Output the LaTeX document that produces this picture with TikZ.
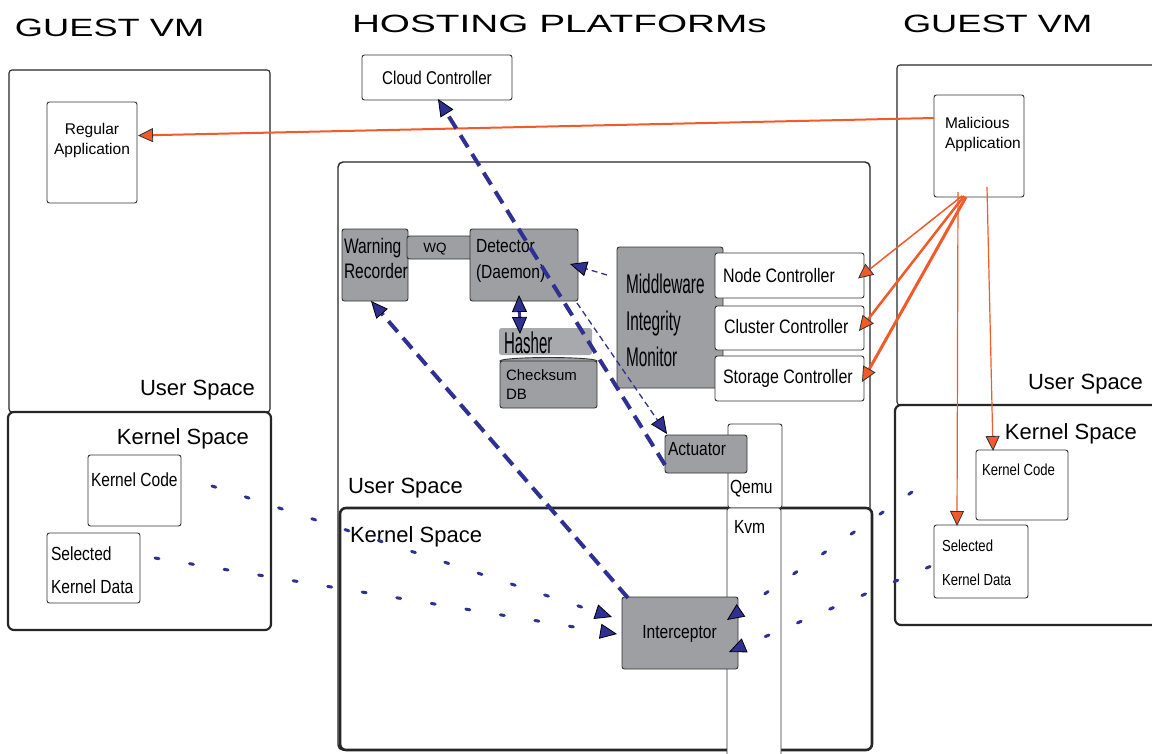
\documentclass[tikz,border=0pt]{standalone}
\usepackage{fontspec}
\setmainfont{Liberation Sans}
\newfontfamily\nf[FakeStretch=0.82]{Liberation Sans}
\newfontfamily\nfw[FakeStretch=0.74]{Liberation Sans}
\newfontfamily\nfm[FakeStretch=0.57]{Liberation Sans}
\newfontfamily\nfh[FakeStretch=0.5]{Liberation Sans}
\newfontfamily\tfa[FakeStretch=1.45]{Liberation Sans}
\newfontfamily\tfb[FakeStretch=1.55]{Liberation Sans}
\usetikzlibrary{arrows.meta,calc}
\definecolor{gfill}{HTML}{9D9FA2}
\definecolor{hfill}{HTML}{A7A9AC}
\definecolor{bl}{HTML}{2E3192}
\definecolor{orn}{HTML}{F15A29}
\newcommand{\fsz}[1]{\fontsize{#1}{#1}\selectfont}
\begin{document}
\begin{tikzpicture}[x=1pt,y=-1pt,
  box/.style={draw=black!80, line width=0.9pt, rounded corners=2.5pt, fill=white, inner sep=0pt, outer sep=0pt, anchor=north west},
  gbox/.style={box, fill=gfill},
  vmbox/.style={draw=black!85, line width=1.1pt, rounded corners=3pt, fill=white, inner sep=0pt, outer sep=0pt, anchor=north west},
  kbox/.style={vmbox, line width=2.2pt, rounded corners=6pt},
  txt/.style={inner sep=0pt, outer sep=0pt, anchor=base west},
  txtc/.style={inner sep=0pt, outer sep=0pt, anchor=base},
  txte/.style={inner sep=0pt, outer sep=0pt, anchor=base east},
  bt/.tip={Triangle[length=17pt, width=15pt, fill=bl, color=black, line width=0.8pt]},
  ot/.tip={Triangle[length=15pt, width=14pt, fill=orn, color=black!80, line width=0.8pt]},
  thickdash/.style={draw=bl, line width=4pt, dash pattern=on 14pt off 8pt},
  thindash/.style={draw=bl, line width=1.3pt, dash pattern=on 6pt off 4pt},
  dotline/.style={draw=bl, line width=3pt, line cap=round, dash pattern=on 4pt off 31pt},
  oline/.style={draw=orn}
]
\useasboundingbox (0,0) rectangle (1152,753);
\clip (0,0) rectangle (1152,753);

% titles
\node[txt] (ttl1) at (15,36) {\fsz{25}\tfa GUEST VM};
\node[txt] (ttl2) at (352,32) {\fsz{25}\tfb HOSTING PLATFORMs};
\node[txt] (ttl3) at (903,32) {\fsz{25}\tfa GUEST VM};

% left guest VM
\node[vmbox, minimum width=261, minimum height=342] (lu) at (9,70) {};
\node[kbox, minimum width=263, minimum height=218] (lk) at (8,412) {};
\node[box, minimum width=90, minimum height=101] (reg) at (47,102) {};
\node[box, minimum width=93, minimum height=71] (lkc) at (88,455) {};
\node[box, minimum width=93, minimum height=70] (lsk) at (47,533) {};
\node[txtc] (regl1) at (92,134) {\fsz{15.5}Regular};
\node[txtc] (regl2) at (92,154) {\fsz{15.5}Application};
\node[txte] (lus) at (255,395) {\fsz{22}User Space};
\node[txte] (lks) at (249,444) {\fsz{22}Kernel Space};
\node[txt] (lkcl) at (91,486) {\fsz{19}\nf Kernel Code};
\node[txt] (lskl1) at (51,560) {\fsz{19}\nf Selected};
\node[txt] (lskl2) at (51,593) {\fsz{19}\nf Kernel Data};

% host
\node[vmbox, line width=1.4pt, rounded corners=5pt, minimum width=532, minimum height=588] (host) at (338,162) {};
\node[kbox, line width=2.6pt, minimum width=532, minimum height=242] (hk) at (340,508) {};
\node[txt] (hus) at (348,493) {\fsz{22}User Space};
\node[txt] (hks) at (350,542) {\fsz{22}Kernel Space};
\node[box, minimum width=150, minimum height=45] (cc) at (362,55) {};
\node[txtc] (ccl) at (437,84) {\fsz{18.5}\nf Cloud Controller};
\node[box, minimum width=54, minimum height=84] (qemu) at (728,424) {};
\node[box, minimum width=54, minimum height=250] (kvm) at (727,508) {};
\node[txt] (qemul) at (730,493) {\fsz{19}\nf Qemu};
\node[txt] (kvml) at (734,533) {\fsz{19}\nf Kvm};
\node[gbox, minimum width=66, minimum height=72] (wr) at (342,229) {};
\node[gbox, minimum width=65, minimum height=23] (wq) at (407,236) {};
\node[gbox, minimum width=108, minimum height=72] (det) at (470,229) {};
\node[box, draw=none, fill=hfill, minimum width=93, minimum height=27] (hash) at (499,328) {};
\draw[draw=black!80, line width=0.9pt, fill=gfill] (548.5,361) ellipse [x radius=48.5pt, y radius=3.5pt];
\node[gbox, minimum width=97, minimum height=47] (cdb) at (500,361) {};
\node[gbox, minimum width=106, minimum height=141] (mim) at (617,247) {};
\node[box, minimum width=149, minimum height=45] (nc) at (715,253) {};
\node[box, minimum width=149, minimum height=44] (clc) at (715,306) {};
\node[box, minimum width=149, minimum height=45] (stc) at (715,356) {};
\node[gbox, minimum width=82, minimum height=38] (act) at (665,435) {};
\node[gbox, minimum width=116, minimum height=72] (intc) at (622,597) {};

\node[txt] (wrl1) at (344,253) {\fsz{21}\nfw Warning};
\node[txt] (wrl2) at (344,278) {\fsz{21}\nfw Recorder};
\node[txtc] (wql) at (435,252) {\fsz{13.5}WQ};
\node[txt] (detl1) at (476,252) {\fsz{19}\nf Detector};
\node[txt] (detl2) at (476,278) {\fsz{19}\nf (Daemon)};
\node[txt] (hashl) at (504,353) {\fsz{30}\nfh Hasher};
\node[txt] (cdbl1) at (506,380) {\fsz{15}Checksum};
\node[txt] (cdbl2) at (506,399) {\fsz{15}DB};
\node[txt] (miml1) at (626,293) {\fsz{27}\nfm Middleware};
\node[txt] (miml2) at (626,330) {\fsz{27}\nfm Integrity};
\node[txt] (miml3) at (626,366) {\fsz{27}\nfm Monitor};
\node[txt] (ncl) at (723,282) {\fsz{19.5}\nf Node Controller};
\node[txt] (clcl) at (724,333) {\fsz{19.5}\nf Cluster Controller};
\node[txt] (stcl) at (723,383) {\fsz{19.5}\nf Storage Controller};
\node[txt] (actl) at (668,455) {\fsz{19}\nf Actuator};
\node[txtc] (intcl) at (679.5,638) {\fsz{19}\nf Interceptor};

% right guest VM
\node[vmbox, minimum width=270, minimum height=340] (ru) at (897,65) {};
\node[kbox, minimum width=270, minimum height=220] (rk) at (895,405) {};
\node[box, minimum width=90, minimum height=102] (mal) at (934,95) {};
\node[box, minimum width=92, minimum height=70] (rkc) at (976,450) {};
\node[box, minimum width=94, minimum height=73] (rsk) at (934,525) {};
\node[txt] (mall1) at (945,128) {\fsz{15.5}Malicious};
\node[txt] (mall2) at (945,148) {\fsz{15.5}Application};
\node[txte] (rus) at (1143,389) {\fsz{22}User Space};
\node[txte] (rks) at (1137,439) {\fsz{22}Kernel Space};
\node[txt] (rkcl) at (982,475) {\fsz{16}\nf Kernel Code};
\node[txt] (rskl1) at (942,551) {\fsz{16}\nf Selected};
\node[txt] (rskl2) at (942,585) {\fsz{16}\nf Kernel Data};

% orange connectors
\draw[oline, line width=2pt, -{ot}] ($(mal.west)+(0,-28)$) -- ($(reg.east)+(1,-17)$);
\draw[oline, line width=1.5pt, -{ot}] ($(mal.south)+(-17,-1)$) -- ($(nc.east)+(-6,3)$);
\draw[oline, line width=2.5pt, -{ot}] ($(mal.south)+(-15,-1)$) -- ($(clc.east)+(-5,3)$);
\draw[oline, line width=3pt, -{ot}] ($(mal.south)+(-13,0)$) -- ($(stc.east)+(-2,3.5)$);
\draw[oline, line width=1.2pt, -{ot}] ($(mal.south)+(-21,-5)$) -- ($(rsk.north)+(-24,1)$);
\draw[oline, line width=1.2pt, -{ot}] ($(mal.south)+(8,-10)$) -- ($(rkc.north)+(-29,1)$);

% blue connectors
\draw[thickdash, -{bt}] ($(act.west)+(0,11)$) -- ($(cc.south)+(1,-1)$);
\draw[thickdash, -{bt}] ($(intc.north)+(-52,1)$) -- ($(wr.south)+(-4,0)$);
\draw[draw=bl, line width=3pt, {bt}-{bt}] ($(det.south)+(-5,-6)$) -- ($(hash.north)+(-25.5,6)$);
\draw[thindash, -{bt}] ($(mim.west)+(-10,-42.5)$) -- ($(det.east)+(-8,-1)$);
\draw[thindash, -{bt}] ($(det.south east)+(-1,2)$) -- ($(act.north west)+(2,-1)$);
\draw[dotline, -{bt}] ($(lkc.east)+(31,-4.5)$) -- ($(intc.west)+(-10,-16)$);
\draw[dotline, -{bt}] ($(lsk.east)+(15,-10)$) -- ($(intc.west)+(-5,1)$);
\draw[dotline, -{bt}] ($(rk.west)+(17,-23)$) -- ($(intc.east)+(-11,-13)$);
\draw[dotline, -{bt}] ($(rsk.west)+(-4,5)$) -- ($(intc.east)+(-9,19)$);
\end{tikzpicture}
\end{document}
